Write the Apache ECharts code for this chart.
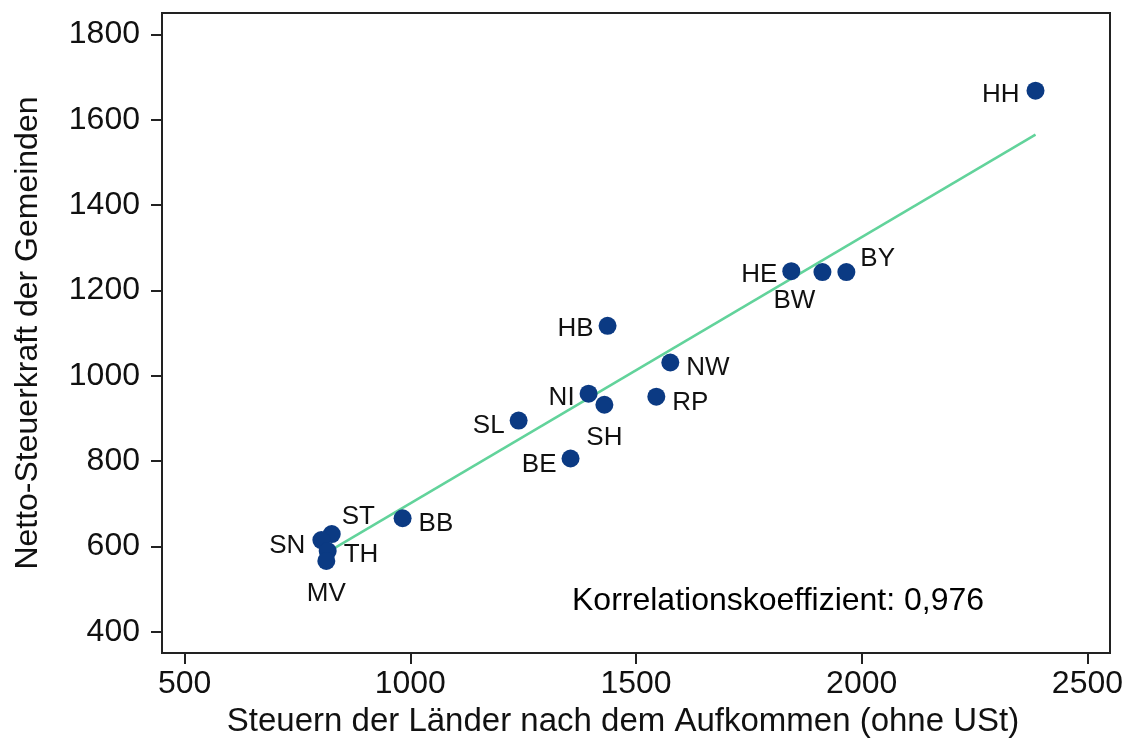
<!DOCTYPE html>
<html>
<head>
<meta charset="utf-8">
<script src="https://cdn.jsdelivr.net/npm/echarts@6/dist/echarts.min.js"></script>
<style>
  html, body { margin: 0; padding: 0; background: #fff; }
  #main { width: 1129px; height: 743px; }
</style>
</head>
<body>
<div id="main"></div>
<script>
"use strict";
// Länder (Kürzel) und Werte
var laender = ["HH", "BY", "BW", "HE", "HB", "NW", "NI", "SH", "RP", "SL", "BE", "BB", "ST", "SN", "TH", "MV"];
var steuernLaender = [2385, 1966, 1913, 1844, 1437, 1576, 1395, 1430, 1545, 1240, 1355, 983, 826, 803, 817, 814];
var steuerkraftGemeinden = [1668, 1243, 1243, 1245, 1117, 1031, 958, 932, 951, 895, 806, 666, 629, 615, 589, 566];
// Regressionsgerade (Anfang, Ende)
var trendX = [832, 2385];
var trendY = [596, 1565];
var xTicks = [500, 1000, 1500, 2000, 2500];
var yTicks = [400, 600, 800, 1000, 1200, 1400, 1600, 1800];
var korrelation = "Korrelationskoeffizient: 0,976";

// wo das Kürzel neben dem Punkt steht
var labelPos = {
    HH: ["left", [-2, 4]], BY: ["right", [0, -13]], BW: ["bottom", [-28, 2]],
    HE: ["left", [0, 4]], HB: ["left", [0, 3]], NW: ["right", [2, 5]],
    NI: ["left", [0, 4]], SH: ["bottom", [0, 6]], RP: ["right", [2, 6]],
    SL: ["left", [0, 5]], BE: ["left", [0, 6]], BB: ["right", [2, 6]],
    ST: ["right", [-4, -17]], SN: ["left", [-2, 6]], TH: ["right", [2, 4]],
    MV: ["bottom", [0, 6]]
};

var punkte = laender.map(function (k, i) {
    return {
        name: k,
        value: [steuernLaender[i], steuerkraftGemeinden[i]],
        label: { position: labelPos[k][0], offset: labelPos[k][1] }
    };
});
var trend = trendX.map(function (x, i) { return [x, trendY[i]]; });

var chartDom = document.getElementById('main');
var myChart = echarts.init(chartDom);
var schrift = "'Liberation Sans', Arial, Helvetica, sans-serif";
var ohneTrenner = function (v) { return String(v); };

var option = {
    animation: false,
    backgroundColor: '#fff',
    textStyle: { fontFamily: schrift, color: '#111' },
    grid: {
        left: 162, right: 19, top: 13, bottom: 88,
        show: true, borderColor: '#222', borderWidth: 2, backgroundColor: '#fff'
    },
    xAxis: {
        type: 'value', min: 450, max: 2550,
        name: 'Steuern der Länder nach dem Aufkommen (ohne USt)',
        nameLocation: 'middle', nameGap: 48,
        nameTextStyle: { fontSize: 33, color: '#111', fontFamily: schrift, padding: [0, 26, 0, 0] },
        axisLine: { show: true, lineStyle: { color: '#222', width: 2 } },
        axisTick: { show: true, customValues: xTicks, length: 11, lineStyle: { color: '#222', width: 2 } },
        axisLabel: { customValues: xTicks, formatter: ohneTrenner, fontSize: 32, color: '#111', margin: 15, fontFamily: schrift },
        splitLine: { show: false }
    },
    yAxis: {
        type: 'value', min: 350, max: 1850,
        name: 'Netto-Steuerkraft der Gemeinden',
        nameLocation: 'middle', nameGap: 118, nameRotate: 90,
        nameTextStyle: { fontSize: 32, color: '#111', fontFamily: schrift },
        axisLine: { show: true, lineStyle: { color: '#222', width: 2 } },
        axisTick: { show: true, customValues: yTicks, length: 11, lineStyle: { color: '#222', width: 2 } },
        axisLabel: { customValues: yTicks, formatter: ohneTrenner, fontSize: 32, color: '#111', margin: 22, fontFamily: schrift },
        splitLine: { show: false }
    },
    graphic: [{
        type: 'text', left: 572, top: 585,
        style: { text: korrelation, font: "32px 'Liberation Sans', Arial, sans-serif", fill: '#000' }
    }],
    series: [{
        type: 'line',
        data: trend,
        showSymbol: false,
        lineStyle: { color: '#62d39b', width: 2.5 },
        z: 2
    }, {
        type: 'scatter',
        data: punkte,
        symbolSize: 18,
        itemStyle: { color: '#0b3a83', opacity: 1 },
        label: {
            show: true, formatter: '{b}', distance: 5, opacity: 1,
            fontSize: 26, color: '#111', fontFamily: schrift
        },
        z: 3
    }]
};
myChart.setOption(option);
</script>
</body>
</html>
